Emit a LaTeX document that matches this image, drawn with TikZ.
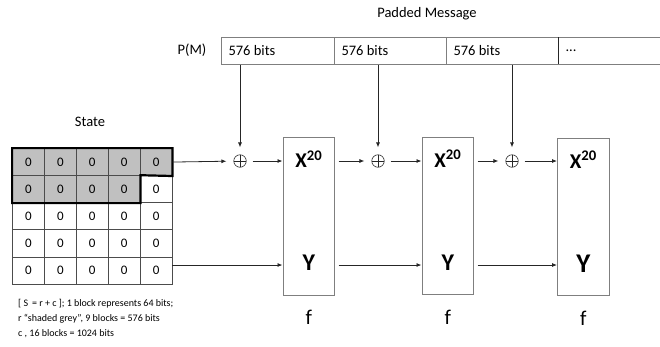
\documentclass[tikz,border=0pt]{standalone}
\usepackage{fontspec}
\setmainfont{Carlito}
\usetikzlibrary{arrows.meta}

\definecolor{shade}{HTML}{C0C0C0}
\definecolor{edge}{HTML}{7F7F7F}
\definecolor{wire}{HTML}{262626}

\tikzset{
  cell/.style={draw=edge!60!black, line width=0.8pt, minimum width=31.9pt, minimum height=27.1pt,
               inner sep=0pt, font=\fontsize{13}{13}\selectfont},
  msgcell/.style={minimum height=27pt, inner sep=0pt, anchor=north west, text height=10pt},
  fbox/.style={draw=edge, line width=1.1pt, minimum width=51.5pt, minimum height=157.5pt,
               inner sep=0pt, anchor=north west},
  xor/.style={circle, draw=wire, line width=0.6pt, minimum size=12.5pt, inner sep=0pt,
              path picture={\draw[wire, line width=0.6pt]
                (path picture bounding box.north) -- (path picture bounding box.south)
                (path picture bounding box.west) -- (path picture bounding box.east);}},
  flow/.style={draw=wire, line width=0.8pt, -{Latex[length=5pt,width=4pt]}},
  xlabel/.style={font=\fontsize{21}{21}\selectfont\bfseries},
  flabel/.style={font=\fontsize{21}{21}\selectfont},
  msgtext/.style={font=\fontsize{14.5}{14.5}\selectfont},
  note/.style={font=\fontsize{10}{10}\selectfont, anchor=west, inner sep=0pt},
}

\begin{document}
\begin{tikzpicture}[x=1pt, y=-1pt]
\useasboundingbox (0,0) rectangle (660,346);

% ---------- padded message ----------
\node[msgtext] (title) at (427,14) {Padded Message};
\node[msgtext] (pm) at (192,50) {P(M)};
\node[msgcell, minimum width=113pt, draw=edge, line width=0.9pt] (m1) at (221,37) {};
\node[msgcell, minimum width=112pt, draw=edge, line width=0.9pt] (m2) at (334,37) {};
\node[msgcell, minimum width=112pt, draw=edge, line width=0.9pt] (m3) at (446,37) {};
\node[msgcell, minimum width=102pt] (m4) at (558,37) {};
\draw[edge, line width=0.9pt] (m4.north west) -- (m4.north east) (m4.south west) -- (m4.south east);
\draw[wire, line width=0.9pt] (m4.north west) -- (m4.south west);
\foreach \m in {m1,m2,m3}
  \node[msgtext, anchor=west] at ([xshift=4pt]\m.west) {576 bits};
\node[msgtext, anchor=west] at ([xshift=4pt]m4.west) {...};

% ---------- state ----------
\node[msgtext] (state) at (90,122) {State};
\foreach \r in {1,...,5}
  \foreach \c in {1,...,5}{
    \pgfmathsetmacro{\isr}{(\r==1) || (\r==2 && \c<5) ? 1 : 0}
    \ifdim\isr pt>0.5pt
      \node[cell, fill=shade] (s\r\c) at ({12.5+31.9*(\c-0.5)},{148.5+27.1*(\r-0.5)}) {0};
    \else
      \node[cell] (s\r\c) at ({12.5+31.9*(\c-0.5)},{148.5+27.1*(\r-0.5)}) {0};
    \fi
  }
\draw[black, line width=2.2pt, line join=miter]
  (s11.north west) -- (s15.north east) -- (s15.south east) -- (s24.north east)
  -- (s24.south east) -- (s21.south west) -- cycle;

% ---------- absorbing rounds ----------
\node[fbox] (f1) at (282.5,137) {};
\node[fbox] (f2) at (421.5,136.5) {};
\node[fbox] (f3) at (557,137.5) {};

\foreach \i/\yy in {1/24,2/24,3/27}{
  \node[xlabel] (x\i) at ([yshift=-22pt]f\i.north) {X\textsuperscript{20}};
  \node[font=\fontsize{\yy}{\yy}\selectfont\bfseries] (y\i) at ([yshift=-126pt]f\i.north) {Y};
  \node[flabel] (fl\i) at ([yshift=-22pt]f\i.south) {f};
}

\node[xor] (o1) at (240,161) {};
\node[xor] (o2) at (378,161) {};
\node[xor] (o3) at (512,161) {};

% message blocks into the xors
\draw[flow, shorten >=7pt] (o1 |- m1.south) -- (o1);
\draw[flow, shorten >=7pt] (o2 |- m2.south) -- (o2);
\draw[flow, shorten >=7pt] (o3 |- m3.south) -- (o3);

% rate part
\draw[flow, shorten >=7pt] (s15.east) -- (o1);
\draw[flow, shorten <=6pt] (o1) -- (o1 -| f1.west);
\draw[flow, shorten <=3.5pt, shorten >=7pt] (o2 -| f1.east) -- (o2);
\draw[flow, shorten <=6pt] (o2) -- (o2 -| f2.west);
\draw[flow, shorten <=3.5pt, shorten >=7pt] (o3 -| f2.east) -- (o3);
\draw[flow, shorten <=6pt] (o3) -- (o3 -| f3.west);

% capacity part
\coordinate (ylev) at (0,265);
\draw[flow] (s55.east |- ylev) -- (f1.west |- ylev);
\draw[flow, shorten <=3.5pt] (f1.east |- ylev) -- (f2.west |- ylev);
\draw[flow, shorten <=3.5pt] (f2.east |- ylev) -- (f3.west |- ylev);

% ---------- notes ----------
\node[note] (n1) at (18,304) {[ S \,= r + c ]; 1 block represents 64 bits;};
\node[note] (n2) at (18,319) {r “shaded grey”, 9 blocks = 576 bits};
\node[note] (n3) at (18,334) {c , 16 blocks = 1024 bits};
\end{tikzpicture}
\end{document}
